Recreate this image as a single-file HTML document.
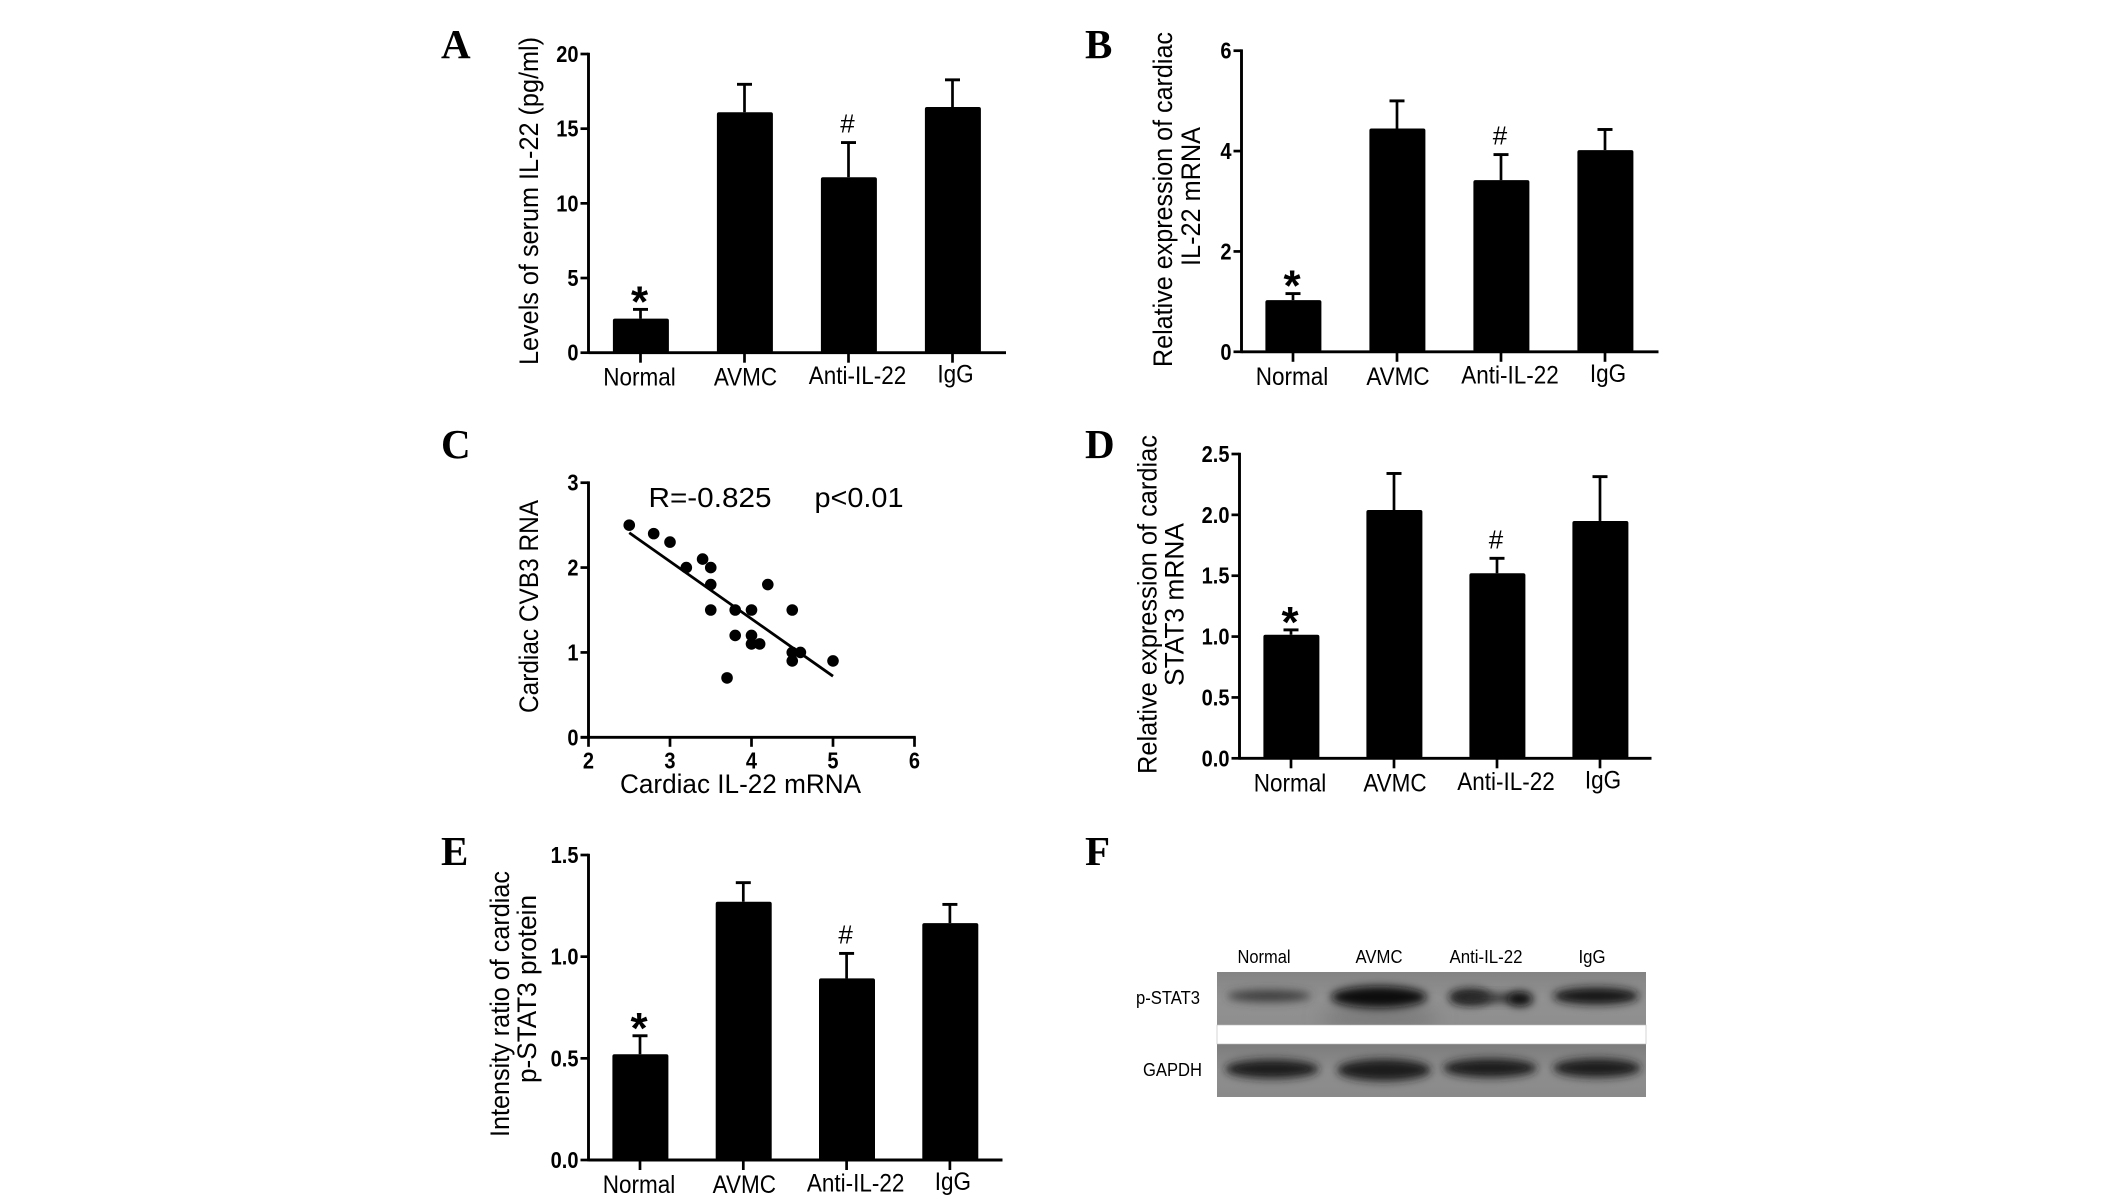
<!DOCTYPE html>
<html lang="en">
<head>
<meta charset="utf-8">
<title>IL-22 and STAT3 figure panels</title>
<style>
html,body{margin:0;padding:0;background:#fff;}
svg{display:block;font-family:"Liberation Sans",Arial,sans-serif;fill:#000;}
.letter{font-family:"Liberation Serif","Times New Roman",serif;font-weight:bold;font-size:41px;}
.title{font-size:26.5px;}
.tick{font-size:23px;font-weight:bold;}
.cat{font-size:25px;}
.blot-label{font-size:18px;}
</style>
</head>
<body>
<svg id="fig" xmlns="http://www.w3.org/2000/svg" width="2126" height="1200" viewBox="0 0 2126 1200">
  <defs>
    <filter id="soft" x="-30%" y="-80%" width="160%" height="260%"><feGaussianBlur stdDeviation="4.2"/></filter>
    <filter id="softer" x="-30%" y="-80%" width="160%" height="260%"><feGaussianBlur stdDeviation="9"/></filter>
    <clipPath id="clipTop"><rect x="1217" y="972" width="429" height="53"/></clipPath>
    <clipPath id="clipBottom"><rect x="1217" y="1044" width="429" height="53"/></clipPath>
    <linearGradient id="blotBg" x1="0" y1="0" x2="0" y2="1">
      <stop offset="0" stop-color="#7c7c7c"/><stop offset="0.5" stop-color="#8e8e8e"/><stop offset="1" stop-color="#8a8a8a"/>
    </linearGradient>
  </defs>

  <text class="letter" x="441" y="58">A</text>
  <text class="letter" x="1085" y="58">B</text>
  <text class="letter" x="441" y="458">C</text>
  <text class="letter" x="1085" y="458">D</text>
  <text class="letter" x="441" y="865">E</text>
  <text class="letter" x="1085" y="865">F</text>

  <text class="title" transform="translate(538,365) rotate(-90)" textLength="328" lengthAdjust="spacingAndGlyphs">Levels of serum IL-22 (pg/ml)</text>
  <text class="title" transform="translate(1172,367) rotate(-90)" textLength="335" lengthAdjust="spacingAndGlyphs">Relative expression of cardiac</text>
  <text class="title" transform="translate(1200,266) rotate(-90)" textLength="139" lengthAdjust="spacingAndGlyphs">IL-22 mRNA</text>
  <text class="title" transform="translate(538,713) rotate(-90)" textLength="213" lengthAdjust="spacingAndGlyphs">Cardiac CVB3 RNA</text>
  <text class="title" x="620" y="793" textLength="241" lengthAdjust="spacingAndGlyphs">Cardiac IL-22 mRNA</text>
  <text style="font-size:28px" x="648.5" y="507" textLength="123" lengthAdjust="spacingAndGlyphs">R=-0.825</text>
  <text style="font-size:28px" x="814.5" y="507" textLength="89" lengthAdjust="spacingAndGlyphs">p&lt;0.01</text>
  <text class="title" transform="translate(1156.5,774) rotate(-90)" textLength="339" lengthAdjust="spacingAndGlyphs">Relative expression of cardiac</text>
  <text class="title" transform="translate(1183.5,686) rotate(-90)" textLength="163" lengthAdjust="spacingAndGlyphs">STAT3 mRNA</text>
  <text class="title" transform="translate(509,1137) rotate(-90)" textLength="266" lengthAdjust="spacingAndGlyphs">Intensity ratio of cardiac</text>
  <text class="title" transform="translate(536,1083) rotate(-90)" textLength="188" lengthAdjust="spacingAndGlyphs">p-STAT3 protein</text>

  <g id="panelA"></g>
  <g id="panelB"></g>
  <g id="panelC"></g>
  <g id="panelD"></g>
  <g id="panelE"></g>

  <g>
    <text class="blot-label" x="1264" y="963" text-anchor="middle" textLength="53" lengthAdjust="spacingAndGlyphs">Normal</text>
    <text class="blot-label" x="1379" y="963" text-anchor="middle" textLength="47" lengthAdjust="spacingAndGlyphs">AVMC</text>
    <text class="blot-label" x="1486" y="963" text-anchor="middle" textLength="73" lengthAdjust="spacingAndGlyphs">Anti-IL-22</text>
    <text class="blot-label" x="1592" y="963" text-anchor="middle" textLength="27" lengthAdjust="spacingAndGlyphs">IgG</text>
    <text class="blot-label" x="1136" y="1004" textLength="64" lengthAdjust="spacingAndGlyphs">p-STAT3</text>
    <text class="blot-label" x="1143" y="1076" textLength="59" lengthAdjust="spacingAndGlyphs">GAPDH</text>
    <g clip-path="url(#clipTop)">
      <rect x="1217" y="972" width="429" height="53" fill="url(#blotBg)"/>
      <rect x="1217" y="972" width="429" height="53" fill="#9a9a9a" opacity="0.25"/>
      <ellipse cx="1380" cy="1018" rx="60" ry="10" fill="#777" filter="url(#softer)"/>
      <ellipse cx="1269" cy="996" rx="42" ry="6" fill="#3c3c3c" filter="url(#soft)"/>
      <ellipse cx="1379" cy="997" rx="48" ry="11" fill="#101010" filter="url(#soft)"/>
      <ellipse cx="1470" cy="997" rx="21" ry="8" fill="#181818" filter="url(#soft)"/>
      <ellipse cx="1490" cy="998" rx="38" ry="4.5" fill="#333" filter="url(#soft)"/>
      <ellipse cx="1520" cy="999" rx="13" ry="7" fill="#101010" filter="url(#soft)"/>
      <ellipse cx="1596" cy="996" rx="43" ry="8.5" fill="#181818" filter="url(#soft)"/>
    </g>
    <g clip-path="url(#clipBottom)">
      <rect x="1217" y="1044" width="429" height="53" fill="url(#blotBg)"/>
      <ellipse cx="1272" cy="1069" rx="47" ry="9.5" fill="#1a1a1a" filter="url(#soft)"/>
      <ellipse cx="1384" cy="1070" rx="47" ry="11" fill="#1a1a1a" filter="url(#soft)"/>
      <ellipse cx="1490" cy="1068" rx="47" ry="9.5" fill="#1a1a1a" filter="url(#soft)"/>
      <ellipse cx="1597" cy="1068" rx="44" ry="9.5" fill="#1a1a1a" filter="url(#soft)"/>
    </g>
    <rect x="1217" y="1025" width="429" height="19" fill="#fff" stroke="#bbb" stroke-width="0.6"/>
  </g>
</svg>

<script>
var categories = ['Normal', 'AVMC', 'Anti-IL-22', 'IgG'];

var panelAMeans = [2.28, 16.1, 11.75, 16.45];
var panelAErrors = [0.62, 1.87, 2.32, 1.82];
var panelATicks = [0, 5, 10, 15, 20];

var panelBMeans = [1.03, 4.45, 3.42, 4.02];
var panelBErrors = [0.13, 0.55, 0.51, 0.41];
var panelBTicks = [0, 2, 4, 6];

var panelDMeans = [1.015, 2.04, 1.52, 1.95];
var panelDErrors = [0.04, 0.30, 0.123, 0.364];
var panelDTicks = ['0.0', '0.5', '1.0', '1.5', '2.0', '2.5'];

var panelEMeans = [0.52, 1.27, 0.893, 1.165];
var panelEErrors = [0.091, 0.094, 0.123, 0.092];
var panelETicks = ['0.0', '0.5', '1.0', '1.5'];

var scatterIL22 = [2.5, 2.8, 3.0, 3.2, 3.4, 3.5, 3.5, 3.5, 3.7, 3.8, 3.8, 4.0, 4.0, 4.0, 4.1, 4.2, 4.5, 4.5, 4.5, 4.6, 5.0];
var scatterCVB3 = [2.5, 2.4, 2.3, 2.0, 2.1, 2.0, 1.8, 1.5, 0.7, 1.5, 1.2, 1.5, 1.2, 1.1, 1.1, 1.8, 1.5, 1.0, 0.9, 1.0, 0.9];
var fitLineX = [2.5, 5.0];
var fitLineY = [2.41, 0.72];
var scatterXTicks = [2, 3, 4, 5, 6];
var scatterYTicks = [0, 1, 2, 3];

var NS = 'http://www.w3.org/2000/svg';

function make(parent, tag, attrs, text) {
  var el = document.createElementNS(NS, tag);
  for (var k in attrs) { el.setAttribute(k, attrs[k]); }
  if (text !== undefined) { el.textContent = text; }
  parent.appendChild(el);
  return el;
}

function condense(el, factor) {
  el.setAttribute('textLength', (el.getComputedTextLength() * factor).toFixed(2));
  el.setAttribute('lengthAdjust', 'spacingAndGlyphs');
}

function linearScale(d0, d1, r0, r1) {
  return function (v) { return r0 + (v - d0) * (r1 - r0) / (d1 - d0); };
}

function drawYAxis(g, prefix, axisX, yScale, ticks) {
  var vals = ticks.map(Number);
  var top = yScale(Math.max.apply(null, vals));
  var bottom = yScale(Math.min.apply(null, vals));
  var line = make(g, 'line', { x1: axisX, x2: axisX, y1: top - 1.3, y2: bottom + 1.3, stroke: '#000', 'stroke-width': 2.9 });
  
  
  ticks.forEach(function (t) {
    var y = yScale(Number(t));
    var tick = make(g, 'line', { x1: axisX - 8, x2: axisX, y1: y, y2: y, stroke: '#000', 'stroke-width': 2.7 });
    
    
    var label = make(g, 'text', { 'class': 'tick', x: axisX - 10, y: y + 8, 'text-anchor': 'end' }, String(t));
    
    
    condense(label, 0.87);
  });
}

function drawBarPanel(id, prefix, cfg, means, errors, ticks) {
  var g = document.getElementById(id);
  var vals = ticks.map(Number);
  var y = linearScale(0, Math.max.apply(null, vals), cfg.zeroY, cfg.topY);
  var x = function (i) { return cfg.firstCenter + i * cfg.spacing; };
  var barW = 56;
  var labelDx = [-1, 1, 9, 3];
  var labelDy = [0, 0, -1.5, -3];

  categories.forEach(function (cat, i) {
    var top = y(means[i]);
    var cap = y(means[i] + errors[i]);
    var stem = make(g, 'line', { x1: x(i), x2: x(i), y1: top, y2: cap, stroke: '#000', 'stroke-width': 2.7 });
    
    
    var capLine = make(g, 'line', { x1: x(i) - 7.5, x2: x(i) + 7.5, y1: cap, y2: cap, stroke: '#000', 'stroke-width': 2.9 });
    
    
    var bar = make(g, 'rect', { x: x(i) - barW / 2 + 0.4, y: top, width: barW, height: cfg.zeroY - top, rx: 2, fill: '#000' });
    
    
    var tick = make(g, 'line', { x1: x(i), x2: x(i), y1: cfg.zeroY, y2: cfg.zeroY + 10, stroke: '#000', 'stroke-width': 2.7 });
    
    
    var label = make(g, 'text', { 'class': 'cat', x: x(i) + labelDx[i], y: cfg.zeroY + 33 + labelDy[i], 'text-anchor': 'middle' }, cat);
    
    
    condense(label, 0.9);
    if (i === 0) {
      var star = make(g, 'text', { x: x(i) - 1, y: cap - 18 + 25, 'text-anchor': 'middle', style: 'font-size:44px;font-weight:bold' }, '*');
      
      
    }
    if (i === 2) {
      var hash = make(g, 'text', { x: x(i) - 1, y: cap - 19 + 9, 'text-anchor': 'middle', style: 'font-size:26px' }, '#');
      
      
    }
  });

  var xAxis = make(g, 'line', { x1: cfg.axisX, x2: cfg.endX, y1: cfg.zeroY, y2: cfg.zeroY, stroke: '#000', 'stroke-width': 2.9 });
  
  
  drawYAxis(g, prefix, cfg.axisX, y, ticks);
}

drawBarPanel('panelA', 'panel-a', { axisX: 588.5, zeroY: 352.7, topY: 54, endX: 1006, firstCenter: 640.5, spacing: 104 }, panelAMeans, panelAErrors, panelATicks);
drawBarPanel('panelB', 'panel-b', { axisX: 1241.5, zeroY: 351.8, topY: 50.7, endX: 1658.5, firstCenter: 1293, spacing: 104 }, panelBMeans, panelBErrors, panelBTicks);
drawBarPanel('panelD', 'panel-d', { axisX: 1239.5, zeroY: 758.3, topY: 454, endX: 1651.5, firstCenter: 1291, spacing: 103 }, panelDMeans, panelDErrors, panelDTicks);
drawBarPanel('panelE', 'panel-e', { axisX: 588.5, zeroY: 1160, topY: 855, endX: 1002.5, firstCenter: 640, spacing: 103.3 }, panelEMeans, panelEErrors, panelETicks);

(function drawScatter() {
  var g = document.getElementById('panelC');
  var x = linearScale(2, 6, 588.5, 914.5);
  var y = linearScale(0, 3, 737.3, 482.7);

  drawYAxis(g, 'panel-c', x(2), y, scatterYTicks);

  var xAxis = make(g, 'line', { x1: x(2) - 8, x2: x(6) + 1.3, y1: y(0), y2: y(0), stroke: '#000', 'stroke-width': 2.9 });
  
  

  scatterXTicks.forEach(function (t) {
    var tick = make(g, 'line', { x1: x(t), x2: x(t), y1: y(0), y2: y(0) + 9.5, stroke: '#000', 'stroke-width': 2.7 });
    
    
    var label = make(g, 'text', { 'class': 'tick', x: x(t), y: y(0) + 31, 'text-anchor': 'middle' }, String(t));
    
    
    condense(label, 0.87);
  });

  var fit = make(g, 'line', { x1: x(fitLineX[0]), x2: x(fitLineX[1]), y1: y(fitLineY[0]), y2: y(fitLineY[1]), stroke: '#000', 'stroke-width': 2.8 });
  
  

  scatterIL22.forEach(function (v, i) {
    var dot = make(g, 'circle', { cx: x(v), cy: y(scatterCVB3[i]), r: 5.8, fill: '#000' });
    
    
  });
})();
</script>
</body>
</html>
